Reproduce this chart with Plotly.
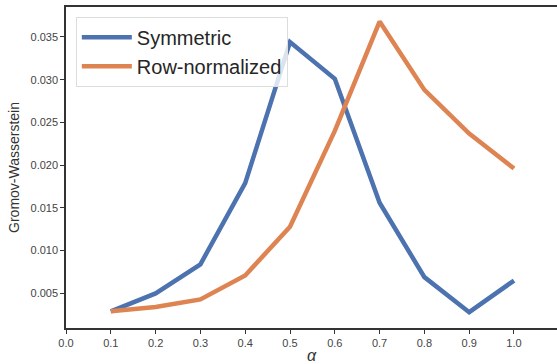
import plotly.graph_objects as go

alpha = [0.1, 0.2, 0.3, 0.4, 0.5, 0.6, 0.7, 0.8, 0.9, 1.0]
symmetric = [0.0029, 0.0050, 0.0084, 0.0179, 0.0344, 0.0301, 0.0156, 0.0069, 0.0028, 0.0065]
row_normalized = [0.0029, 0.0034, 0.0043, 0.0071, 0.0128, 0.0240, 0.0368, 0.0288, 0.0237, 0.0196]
x_ticks = [0.0, 0.1, 0.2, 0.3, 0.4, 0.5, 0.6, 0.7, 0.8, 0.9, 1.0]
y_ticks = [0.005, 0.010, 0.015, 0.020, 0.025, 0.030, 0.035]

fig = go.Figure()
fig.add_trace(go.Scatter(x=alpha, y=symmetric, mode="lines", name="Symmetric",
                         line=dict(color="#4C72B0", width=4.5)))
fig.add_trace(go.Scatter(x=alpha, y=row_normalized, mode="lines", name="Row-normalized",
                         line=dict(color="#DD8452", width=4.5)))

fig.update_layout(
    width=557, height=364,
    margin=dict(l=66, r=0, t=7, b=36),
    paper_bgcolor="white", plot_bgcolor="white",
    font=dict(family="Liberation Sans, Arial", color="#333333"),
    legend=dict(x=0.02, y=0.97, xanchor="left", yanchor="top",
                bordercolor="#dddddd", borderwidth=1, bgcolor="rgba(255,255,255,0.8)",
                font=dict(size=20, color="#262626"), tracegroupgap=4, itemwidth=50),
    xaxis=dict(range=[0, 1.096], tickvals=x_ticks, ticktext=[f"{v:.1f}" for v in x_ticks],
               showgrid=False, zeroline=False, showline=True, linecolor="#333333", linewidth=1.5,
               mirror=True, ticks="outside", ticklen=4, tickcolor="#333333",
               tickfont=dict(size=11, color="#444444"),
               title=dict(text="<i>α</i>", font=dict(size=16, color="#333333"), standoff=2)),
    yaxis=dict(range=[0.00095, 0.0385], tickvals=y_ticks, ticktext=[f"{v:.3f}" for v in y_ticks],
               showgrid=False, zeroline=False, showline=True, linecolor="#333333", linewidth=1.5,
               ticks="outside", ticklen=4, tickcolor="#333333",
               tickfont=dict(size=11, color="#444444"),
               title=dict(text="Gromov-Wasserstein", font=dict(size=14, color="#333333"), standoff=8)),
)

fig.write_html("out.html")
